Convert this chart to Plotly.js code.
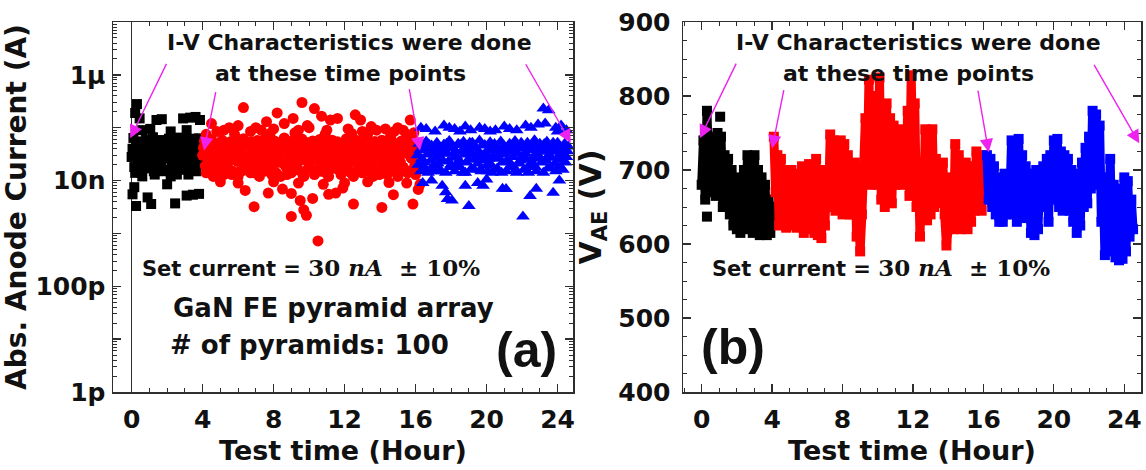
<!DOCTYPE html>
<html>
<head>
<meta charset="utf-8">
<script src="https://cdn.plot.ly/plotly-3.0.1.min.js"></script>
<style>
  html, body { margin: 0; padding: 0; background: #fff; }
  #chart { width: 1146px; height: 470px; }
</style>
</head>
<body>
<div id="chart"></div>
<script>
// Sampling interval of the logged series (hours); the second reading of each
// interval is logged half a step later.
const STEP = 0.1;
const HALF = 0.05;

// ---------- (a) absolute anode current, nA ----------
// stage 1: 0 - 4 h (start 0.0 h)
const blackCurrent = [28, 64, 14, 45, 20, 55, 12, 35, 60, 17, 40, 25, 66, 13, 50, 22, 33, 58, 15, 42,
  27, 62, 12, 47, 19, 36, 65, 16, 52, 24, 30, 60, 13, 44, 21, 56, 17, 38, 63, 26];
const blackCurrent2 = [40, 18, 52, 24, 33, 14, 46, 22, 29, 56, 20, 37, 15, 48, 30, 58, 19, 26, 44, 35,
  16, 50, 23, 31, 54, 13, 41, 28, 21, 57, 38, 18, 47, 26, 62, 34, 15, 49, 22, 31];
// stage 2: 4 - 16 h (start 4.0 h)
const redCurrent = [30, 56, 14, 40, 22, 60, 12, 34, 48, 18, 26, 58, 13, 44, 20, 36, 55, 15, 30, 50,
  12, 38, 24, 62, 16, 46, 28, 14, 54, 33, 20, 57, 12, 42, 26, 60, 17, 37, 50, 13,
  30, 55, 22, 45, 12, 35, 64, 18, 40, 27, 14, 58, 31, 48, 16, 24, 61, 12, 39, 52,
  20, 33, 56, 13, 45, 27, 60, 15, 36, 50, 22, 12, 42, 58, 29, 17, 54, 34, 13, 47,
  25, 62, 16, 38, 52, 12, 30, 57, 21, 44, 14, 35, 60, 19, 48, 27, 12, 55, 32, 41,
  16, 58, 24, 46, 13, 37, 62, 20, 51, 29, 12, 43, 56, 18, 33, 60, 15, 39, 26, 53, 13];
const redCurrent2 = [42, 19, 28, 52, 16, 35, 24, 47, 13, 38, 21, 44, 31, 17, 50, 26, 13, 40, 57, 23,
  34, 15, 46, 20, 29, 53, 18, 41, 25, 14, 48, 32, 22, 56, 15, 37, 27, 45, 19, 58,
  24, 14, 39, 30, 52, 21, 43, 13, 33, 49, 28, 19, 40, 23, 55, 35, 13, 46, 26, 17,
  41, 54, 25, 37, 16, 31, 20, 49, 28, 14, 39, 47, 17, 26, 36, 52, 21, 15, 44, 31,
  18, 42, 29, 14, 23, 47, 36, 16, 55, 27, 46, 22, 15, 39, 30, 17, 50, 24, 43, 13,
  34, 20, 44, 28, 53, 15, 25, 40, 18, 47, 31, 22, 17, 48, 38, 14, 45, 27, 52, 19, 36];
// stage 3: 16 - 24.6 h (start 16.1 h)
const blueCurrent = [30, 50, 15, 40, 22, 55, 14, 34, 46, 19, 27, 52, 16, 38, 24, 48, 14, 32, 56, 20,
  42, 15, 29, 50, 18, 36, 54, 14, 44, 25, 33, 52, 16, 40, 21, 57, 15, 30, 47, 19,
  26, 53, 14, 38, 45, 17, 31, 55, 22, 42, 15, 35, 50, 20, 28, 56, 14, 41, 24, 48,
  16, 33, 52, 19, 45, 27, 58, 15, 37, 50, 22, 14, 43, 54, 30, 18, 47, 35, 15, 52,
  25, 40, 16, 50, 28, 44];
const blueCurrent2 = [20, 38, 26, 45, 17, 31, 48, 24, 15, 36, 43, 21, 29, 15, 44, 33, 50, 23, 18, 41,
  27, 36, 19, 24, 47, 14, 31, 22, 38, 52, 17, 25, 43, 28, 35, 16, 46, 24, 33, 15,
  41, 20, 29, 49, 16, 26, 37, 14, 46, 32, 24, 44, 18, 39, 47, 16, 33, 21, 52, 30,
  42, 25, 14, 38, 22, 48, 18, 31, 44, 26, 35, 49, 24, 17, 40, 27, 52, 21, 38, 29,
  18, 33, 45, 22, 36];

// sporadic readings outside the main band (hour, nA)
const blackSpikeT = [0.3, 0.2, 0.45, 1.4, 1.7, 2.9, 3.3, 3.6, 3.85, 0.6, 1.05, 2.2, 3.1,
  0.05, 0.25, 0.9, 1.1, 2.45, 3.1, 3.45, 3.8, 0.15, 2.0];
const blackSpikeI = [280, 190, 150, 140, 145, 150, 155, 160, 140, 90, 95, 85, 90,
  5.5, 3.3, 4.8, 3.6, 3.7, 5.2, 5.4, 5.6, 7.5, 8.5];
const redSpikeT = [4.5, 6.3, 8.2, 9.1, 9.6, 10.3, 10.7, 11.2, 11.6, 12.6, 12.9, 15.7, 5.5, 6.0, 7.0,
  7.6, 8.6, 9.9, 13.5, 14.3, 15.0, 4.8, 5.2, 6.7, 7.3, 8.0, 9.4, 10.0, 11.0, 12.2, 13.0, 13.8,
  14.8, 15.3, 15.9, 4.2, 5.8, 7.8, 9.2, 10.9, 12.4, 13.3, 14.6, 15.5,
  6.4, 6.9, 7.7, 8.5, 9.0, 9.0, 9.4, 9.5, 9.7, 9.85, 10.5, 10.2, 11.1, 11.5, 11.9, 12.5, 14.1,
  14.75, 15.85, 16.15, 16.25, 5.0, 6.0, 8.0, 10.8, 12.0, 13.3, 14.5, 15.5];
const redSpikeI = [120, 240, 190, 150, 300, 230, 165, 140, 150, 175, 140, 140, 100, 110, 100,
  130, 120, 110, 105, 95, 100, 85, 90, 85, 90, 95, 90, 100, 90, 95, 85, 90,
  85, 90, 80, 75, 75, 78, 80, 75, 78, 75, 72, 75,
  6.5, 3.2, 5.8, 6.9, 5.7, 2.1, 9, 4.2, 2.8, 2.2, 0.72, 4.6, 5.5, 5.8, 7.2, 3.6, 3.1,
  5.4, 3.6, 6.8, 8.5, 9.5, 9, 9.5, 8.5, 9, 9.5, 9.2, 9];
const blueSpikeT = [16.3, 16.6, 17.6, 17.9, 18.2, 18.8, 19.1, 19.6, 19.9, 20.5, 21.0, 21.3, 21.7,
  22.2, 22.5, 22.9, 23.2, 23.5, 23.3, 23.9, 24.2, 24.5, 17.1, 18.5, 20.2, 24.0,
  16.4, 17.5, 17.7, 17.8, 18.05, 18.8, 19.0, 19.5, 19.8, 20.9, 21.1, 22.05, 22.45, 22.8, 23.75,
  16.9, 20.0, 24.1];
const blueSpikeI = [100, 95, 110, 100, 95, 105, 90, 100, 95, 90, 105, 95, 90,
  110, 100, 115, 230, 215, 120, 100, 110, 90, 85, 85, 85, 85,
  9, 8, 6, 4.5, 4.2, 8, 3.3, 9, 8, 7, 6.9, 2.1, 5.1, 7, 5.9,
  10, 10.5, 10];

// ---------- (b) anode-extractor voltage V_AE, V ----------
// stage 1 (start 0.0 h)
const blackVolt = [680, 740, 660, 780, 700, 745, 670, 735, 665, 750, 680, 745, 650, 720, 660, 715, 640, 700, 625, 690,
  620, 680, 615, 660, 700, 620, 720, 630, 715, 615, 720, 625, 700, 612, 690, 615, 680, 612, 660, 615, 650];
// stage 2 (start 4.1 h)
const redVolt = [745, 670, 720, 625, 715, 630, 700, 622, 690, 625, 700, 630, 690, 622, 695, 640, 705, 615, 700, 630,
  708, 620, 690, 615, 715, 612, 700, 608, 690, 625, 700, 650, 748, 660, 740, 645, 720, 660, 740, 640,
  735, 650, 720, 640, 700, 640, 710, 610, 660, 590, 640, 700, 770, 690, 822, 680, 800, 700, 760, 680,
  825, 660, 780, 650, 790, 660, 770, 655, 760, 680, 750, 690, 755, 680, 740, 690, 780, 665, 828, 700,
  790, 650, 710, 610, 700, 640, 755, 632, 740, 640, 755, 650, 715, 655, 700, 660, 710, 640, 598, 620,
  665, 690, 620, 735, 625, 720, 620, 700, 625, 710, 620, 695, 630, 705, 645, 725, 650, 715, 645, 720, 660];
// stage 3 (start 16.2 h)
const blueVolt = [720, 660, 715, 650, 705, 640, 690, 630, 680, 630, 695, 640, 690, 660, 740, 640, 735, 630, 742, 650,
  720, 635, 705, 640, 695, 615, 690, 612, 700, 620, 690, 655, 705, 650, 715, 630, 720, 660, 740, 665,
  742, 650, 725, 645, 720, 650, 715, 645, 700, 630, 695, 615, 690, 625, 710, 650, 730, 655, 745, 675,
  780, 690, 775, 680, 760, 630, 690, 585, 660, 590, 715, 600, 680, 582, 675, 578, 665, 580, 690, 590,
  685, 610, 660, 620];
const blackVoltSpikeT = [1.05, 0.3];
const blackVoltSpikeV = [772, 637];

// tick labels
const timeTicks = [0, 4, 8, 12, 16, 20, 24];
const currentDecades = [1e-12, 1e-11, 1e-10, 1e-9, 1e-8, 1e-7, 1e-6, 1e-5];
const currentLabels = ['1p', '', '100p', '', '10n', '', '1\u00b5', ''];
const voltTicks = [400, 500, 600, 700, 800, 900];

// I-V check points marked by arrows: head (hour, value) and tail offset (px)
const ivHeadT_a = [-0.08, 4.08, 16.25, 24.75];
const ivHeadI_a = [63, 37, 37, 52];
const ivHeadT_b = [-0.1, 4.0, 16.3, 24.85];
const ivHeadV_b = [743, 729, 724, 736];
const ivTailDx = [37, 12, -11, -46];
const ivTailDy = [-76, -60, -63, -80];

// ---------- styling / geometry ----------
const SANS = '"DejaVu Sans", Verdana, sans-serif';
const PANEL = '"Liberation Sans", Arial, Helvetica, sans-serif';
const SERIF = '"DejaVu Serif", "Liberation Serif", serif';
const INK = '#111';
const AXIS = '#2e2e2e';
const MAGENTA = '#ee22ee';
const W = 1146, H = 470;
const MARGIN = { l: 113, r: 5, t: 22, b: 78 };
const plotW = W - MARGIN.l - MARGIN.r;
const plotH = H - MARGIN.t - MARGIN.b;
const px = x => (x - MARGIN.l) / plotW;
const py = y => (H - MARGIN.b - y) / plotH;

const sampleTimes = (t0, n) => Array.from({ length: n }, (_, i) => +(t0 + i * STEP).toFixed(2));
const nA = v => v * 1e-9;

const tickFont = { family: SANS, size: 25, weight: 'bold', color: INK };
const titleFont = { family: SANS, size: 27, weight: 'bold', color: INK };

function axisBase() {
  return {
    showline: true, linecolor: AXIS, linewidth: 1.5, mirror: 'ticks',
    ticks: 'inside', ticklen: 8, tickwidth: 1.3, tickcolor: AXIS,
    showgrid: false, zeroline: false, tickfont: tickFont, fixedrange: true
  };
}

const minorCurrent = [];
for (let e = -12; e < -5; e++) for (let m = 2; m <= 9; m++) minorCurrent.push(m * Math.pow(10, e));

const xA = Object.assign(axisBase(), {
  domain: [0, px(573)], anchor: 'y', range: [-1.05, 24.87],
  tickmode: 'array', tickvals: timeTicks, ticklabelstandoff: 4,
  minor: { dtick: 1, tick0: 0, ticks: 'inside', ticklen: 4, tickwidth: 1, tickcolor: AXIS },
  zeroline: true, zerolinecolor: AXIS, zerolinewidth: 1.3,
  title: { text: 'Test time (Hour)', font: titleFont, standoff: 8 }
});
const yA = Object.assign(axisBase(), {
  domain: [0, 1], anchor: 'x', type: 'log', range: [-12, -5],
  tickmode: 'array', tickvals: currentDecades, ticktext: currentLabels, ticklabelstandoff: 1,
  minor: { tickmode: 'array', tickvals: minorCurrent, ticks: 'inside', ticklen: 4, tickwidth: 1, tickcolor: AXIS },
  title: { text: 'Abs. Anode Current (A)', font: Object.assign({}, titleFont, { size: 28 }), standoff: 2 }
});
const xB = Object.assign(axisBase(), {
  domain: [px(683), 1], anchor: 'y2', range: [-1.06, 24.95],
  tickmode: 'array', tickvals: timeTicks, ticklabelstandoff: 4,
  minor: { dtick: 1, tick0: 0, ticks: 'inside', ticklen: 4, tickwidth: 1, tickcolor: AXIS },
  title: { text: 'Test time (Hour)', font: titleFont, standoff: 8 }
});
const yB = Object.assign(axisBase(), {
  domain: [0, 1], anchor: 'x2', range: [400, 900],
  tickmode: 'array', tickvals: voltTicks, ticklabelstandoff: 6,
  minor: { dtick: 25, tick0: 400, ticks: 'inside', ticklen: 4, tickwidth: 1, tickcolor: AXIS },
  title: { text: 'V<sub>AE</sub> (V)', font: Object.assign({}, titleFont, { size: 30 }), standoff: 8 }
});

// ---------- traces ----------
function currentTrace(band, t0, band2, spikeT, spikeI, symbol, size, color) {
  return {
    type: 'scatter', mode: 'markers', xaxis: 'x', yaxis: 'y',
    x: sampleTimes(t0, band.length).concat(sampleTimes(t0 + HALF, band2.length), spikeT),
    y: band.concat(band2, spikeI).map(nA),
    marker: { symbol: symbol, size: size, color: color, line: { width: 0 } },
    hoverinfo: 'skip', showlegend: false
  };
}
function voltTrace(vals, t0, color) {
  return {
    type: 'scatter', mode: 'lines+markers', xaxis: 'x2', yaxis: 'y2',
    x: sampleTimes(t0, vals.length), y: vals,
    line: { color: color, width: 9 },
    marker: { symbol: 'square', size: 10, color: color, line: { width: 0 } },
    hoverinfo: 'skip', showlegend: false
  };
}

const data = [
  currentTrace(blackCurrent, 0.0, blackCurrent2, blackSpikeT, blackSpikeI, 'square', 10, '#000000'),
  currentTrace(redCurrent, 4.0, redCurrent2, redSpikeT, redSpikeI, 'circle', 11, '#ff0000'),
  currentTrace(blueCurrent, 16.1, blueCurrent2, blueSpikeT, blueSpikeI, 'triangle-up', 12, '#0000ff'),
  voltTrace(blackVolt, 0.0, '#000000'),
  {
    type: 'scatter', mode: 'markers', xaxis: 'x2', yaxis: 'y2',
    x: blackVoltSpikeT, y: blackVoltSpikeV,
    marker: { symbol: 'square', size: 10, color: '#000000' }, hoverinfo: 'skip', showlegend: false
  },
  voltTrace(redVolt, 4.1, '#ff0000'),
  voltTrace(blueVolt, 16.2, '#0000ff')
];

// ---------- annotations ----------
function label(x, y, text, size, anchor, family) {
  return {
    xref: 'paper', yref: 'paper', x: px(x), y: py(y), text: text, showarrow: false,
    xanchor: anchor || 'left', yanchor: 'middle',
    font: { family: family || SANS, size: size, weight: 'bold', color: INK }
  };
}
const setCurrent = 'Set current = <span style="font-family:' + SERIF.replace(/"/g, "'") +
  ';font-size:23px">30 <i>nA</i>  \u00b1 10%</span>';

const annotations = [
  label(349, 42, 'I-V Characteristics were done', 22, 'center'),
  label(340, 73, 'at these time points', 22, 'center'),
  label(140, 267, setCurrent, 21),
  label(171, 308, 'GaN FE pyramid array', 26),
  label(168, 345, '# of pyramids: 100', 26),
  label(526, 350, '(a)', 50, 'center', PANEL),
  label(918, 42, 'I-V Characteristics were done', 22, 'center'),
  label(908, 73, 'at these time points', 22, 'center'),
  label(710, 267, setCurrent, 21),
  label(733, 347, '(b)', 50, 'center', PANEL)
];
function ivArrow(xref, yref, x, y, dx, dy) {
  return {
    xref: xref, yref: yref, x: x, y: y, ax: dx, ay: dy, text: '',
    showarrow: true, arrowhead: 2, arrowsize: 1.9, arrowwidth: 1.4, arrowcolor: MAGENTA, standoff: 0
  };
}
ivHeadT_a.forEach((t, i) => annotations.push(ivArrow('x', 'y', t, Math.log10(nA(ivHeadI_a[i])), ivTailDx[i], ivTailDy[i])));
ivHeadT_b.forEach((t, i) => annotations.push(ivArrow('x2', 'y2', t, ivHeadV_b[i], ivTailDx[i], ivTailDy[i])));

const layout = {
  width: W, height: H, margin: MARGIN,
  paper_bgcolor: '#ffffff', plot_bgcolor: '#ffffff',
  font: { family: SANS, color: INK },
  showlegend: false,
  xaxis: xA, yaxis: yA, xaxis2: xB, yaxis2: yB,
  annotations: annotations
};

Plotly.newPlot('chart', data, layout, { displayModeBar: false, staticPlot: true });
</script>
</body>
</html>
